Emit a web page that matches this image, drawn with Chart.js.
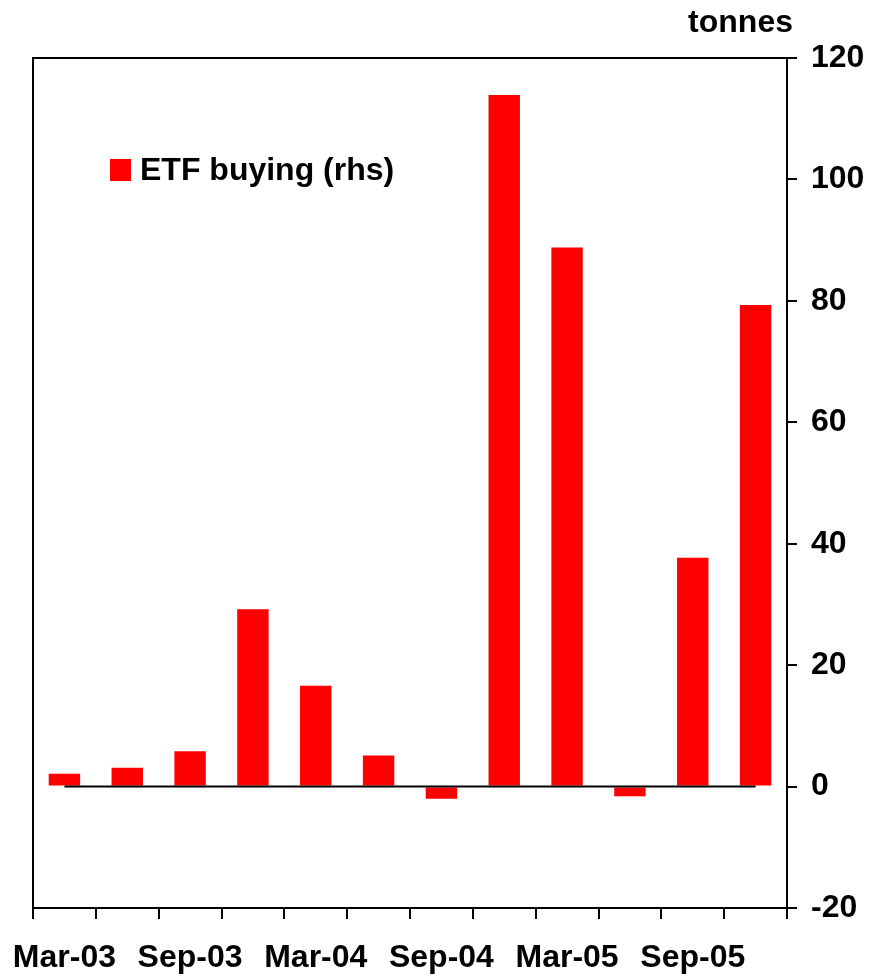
<!DOCTYPE html>
<html>
<head>
<meta charset="utf-8">
<script src="https://cdn.jsdelivr.net/npm/chart.js@4/dist/chart.umd.min.js"></script>
<style>
    html, body { margin: 0; padding: 0; background: #fff; }
    #wrap { width: 886px; height: 978px; }
</style>
</head>
<body>
<div id="wrap"><canvas id="etfChart"></canvas></div>
<script>
const quarters = ["Mar-03", "Jun-03", "Sep-03", "Dec-03", "Mar-04", "Jun-04",
    "Sep-04", "Dec-04", "Mar-05", "Jun-05", "Sep-05", "Dec-05"];
const etfBuying = [2.1, 3.1, 5.8, 29.2, 16.6, 5.1, -2.0, 113.9, 88.8, -1.6, 37.7, 79.3];
const yTicks = { min: -20, max: 120, step: 20 };
const unitLabel = "tonnes";

const fontFamily = "'Liberation Sans', Arial, sans-serif";

// frame, zero line, legend and unit label are drawn by hand
const decorations = {
    id: "decorations",
    afterDatasetsDraw(chart) {
        const { ctx, chartArea, scales } = chart;
        const zeroY = scales.y.getPixelForValue(0);
        ctx.save();
        ctx.strokeStyle = "#000";
        ctx.lineWidth = 2;
        ctx.beginPath();
        ctx.moveTo(scales.x.getPixelForValue(0), zeroY);
        ctx.lineTo(scales.x.getPixelForValue(quarters.length - 1), zeroY);
        ctx.stroke();

        ctx.beginPath();
        ctx.moveTo(chartArea.left, chartArea.bottom);
        ctx.lineTo(chartArea.left, chartArea.top);
        ctx.lineTo(chartArea.right, chartArea.top);
        ctx.stroke();

        const ds = chart.data.datasets[0];
        ctx.fillStyle = ds.backgroundColor;
        ctx.fillRect(chartArea.left + 77, chartArea.top + 101, 21, 22);
        ctx.fillStyle = "#000";
        ctx.font = `bold 32px ${fontFamily}`;
        ctx.textBaseline = "middle";
        ctx.textAlign = "left";
        ctx.fillText(ds.label, chartArea.left + 107, chartArea.top + 113);

        ctx.textAlign = "right";
        ctx.fillText(unitLabel, chartArea.right + 6, chartArea.top - 35);
        ctx.restore();
    },
};

new Chart(document.getElementById("etfChart"), {
    type: "bar",
    data: {
        labels: quarters,
        datasets: [{
            label: "ETF buying (rhs)",
            data: etfBuying,
            backgroundColor: "#ff0000",
            barPercentage: 0.5,
            categoryPercentage: 1.0,
        }],
    },
    options: {
        responsive: true,
        maintainAspectRatio: false,
        animation: false,
        layout: { padding: { left: 33, top: 58, right: 0, bottom: 0 } },
        plugins: { legend: { display: false }, tooltip: { enabled: false } },
        scales: {
            x: {
                grid: { drawOnChartArea: false, offset: true, tickLength: 11, color: "#000", lineWidth: 2 },
                border: { display: true, color: "#000", width: 2 },
                ticks: {
                    autoSkip: false,
                    maxRotation: 0,
                    padding: 20,
                    color: "#000",
                    font: { family: fontFamily, size: 32, weight: "bold" },
                    callback: (value, index) => (index % 2 === 0 ? quarters[index] : ""),
                },
                afterFit: (scale) => {
                    scale.height = 70;
                    scale.paddingLeft = 0;
                    scale.paddingRight = 0;
                },
            },
            y: {
                position: "right",
                min: yTicks.min,
                max: yTicks.max,
                grid: { drawOnChartArea: false, tickLength: 10, color: "#000", lineWidth: 2 },
                border: { display: true, color: "#000", width: 2 },
                ticks: {
                    stepSize: yTicks.step,
                    padding: 14,
                    color: "#000",
                    font: { family: fontFamily, size: 32, weight: "bold" },
                },
                afterFit: (scale) => {
                    scale.width = 99;
                    scale.paddingTop = 0;
                    scale.paddingBottom = 0;
                },
            },
        },
    },
    plugins: [decorations],
});
</script>
</body>
</html>
